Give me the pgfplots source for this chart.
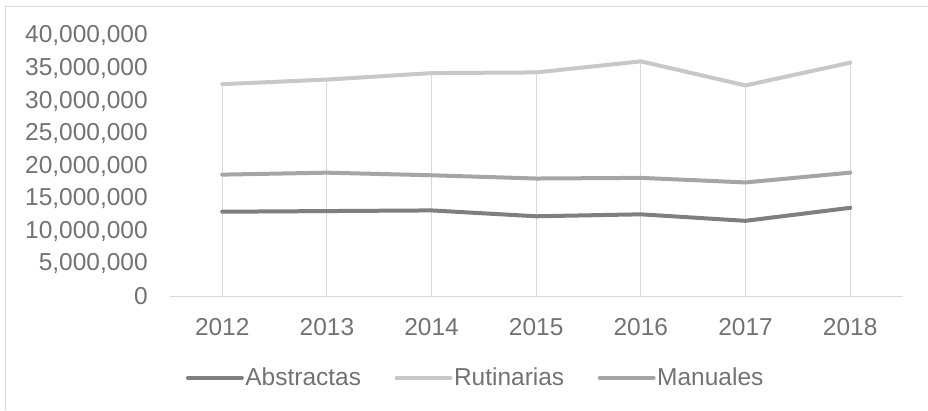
\documentclass[border=0pt]{standalone}
\usepackage{pgfplots}
\pgfplotsset{compat=1.18}
\usepackage{fontspec}
\setmainfont{Liberation Sans}
\definecolor{txt}{HTML}{737373}
\definecolor{gridc}{HTML}{D9D9D9}
\definecolor{cAbs}{HTML}{7F7F7F}
\definecolor{cRut}{HTML}{C8C8C8}
\definecolor{cMan}{HTML}{A5A5A5}
\begin{document}
\begin{tikzpicture}
\fill[white] (0bp,0bp) rectangle (928bp,410bp);
\draw[gridc, line width=1bp] (6bp,0bp) -- (6bp,403bp) -- (928bp,403bp);
\begin{axis}[
  at={(170bp,113.5bp)}, anchor=south west,
  scale only axis, width=733bp, height=260.5bp,
  xmin=2011.5, xmax=2018.5, ymin=0, ymax=40000000,
  xtick={2012,2013,2014,2015,2016,2017,2018},
  xticklabels={2012,2013,2014,2015,2016,2017,2018},
  ytick={0,5000000,10000000,15000000,20000000,25000000,30000000,35000000,40000000},
  scaled y ticks=false,
  yticklabel={\pgfmathprintnumber[fixed,1000 sep={,},assume math mode=true]{\tick}},
  axis x line*=bottom, axis y line*=left,
  x axis line style={gridc, line width=1.2bp, -},
  y axis line style={draw=none},
  major tick length=0pt,
  tick label style={font=\fontsize{24.5bp}{29bp}\selectfont, text=txt},
  yticklabel style={anchor=east, inner sep=0pt, xshift=-22bp},
  xticklabel style={anchor=center, inner sep=0pt, yshift=-30.5bp},
  legend style={at={(axis description cs:0.417,-0.313)}, anchor=center, draw=none, fill=none,
    legend columns=3, font=\fontsize{24.5bp}{29bp}\selectfont, text=txt,
    nodes={inner sep=1.5bp},
    /tikz/every even column/.append style={column sep=32bp}},
  legend image code/.code={\draw[#1, line width=4bp] (0bp,0bp) -- (54bp,0bp);},
  clip=false,
]
\addplot[gridc, line width=1.2bp, ycomb, no marks, forget plot] coordinates {
 (2012,32600000) (2013,33300000) (2014,34300000) (2015,34400000) (2016,36100000) (2017,32400000) (2018,35900000)};
\addplot[cAbs, line width=4bp, line join=round, line cap=round] coordinates {
 (2012,13000000) (2013,13100000) (2014,13200000) (2015,12300000) (2016,12600000) (2017,11600000) (2018,13600000)};
\addlegendentry{Abstractas}
\addplot[cRut, line width=4bp, line join=round, line cap=round] coordinates {
 (2012,32600000) (2013,33300000) (2014,34300000) (2015,34400000) (2016,36100000) (2017,32400000) (2018,35900000)};
\addlegendentry{Rutinarias}
\addplot[cMan, line width=4bp, line join=round, line cap=round] coordinates {
 (2012,18700000) (2013,19000000) (2014,18600000) (2015,18100000) (2016,18200000) (2017,17500000) (2018,19000000)};
\addlegendentry{Manuales}
\end{axis}
\end{tikzpicture}
\end{document}
